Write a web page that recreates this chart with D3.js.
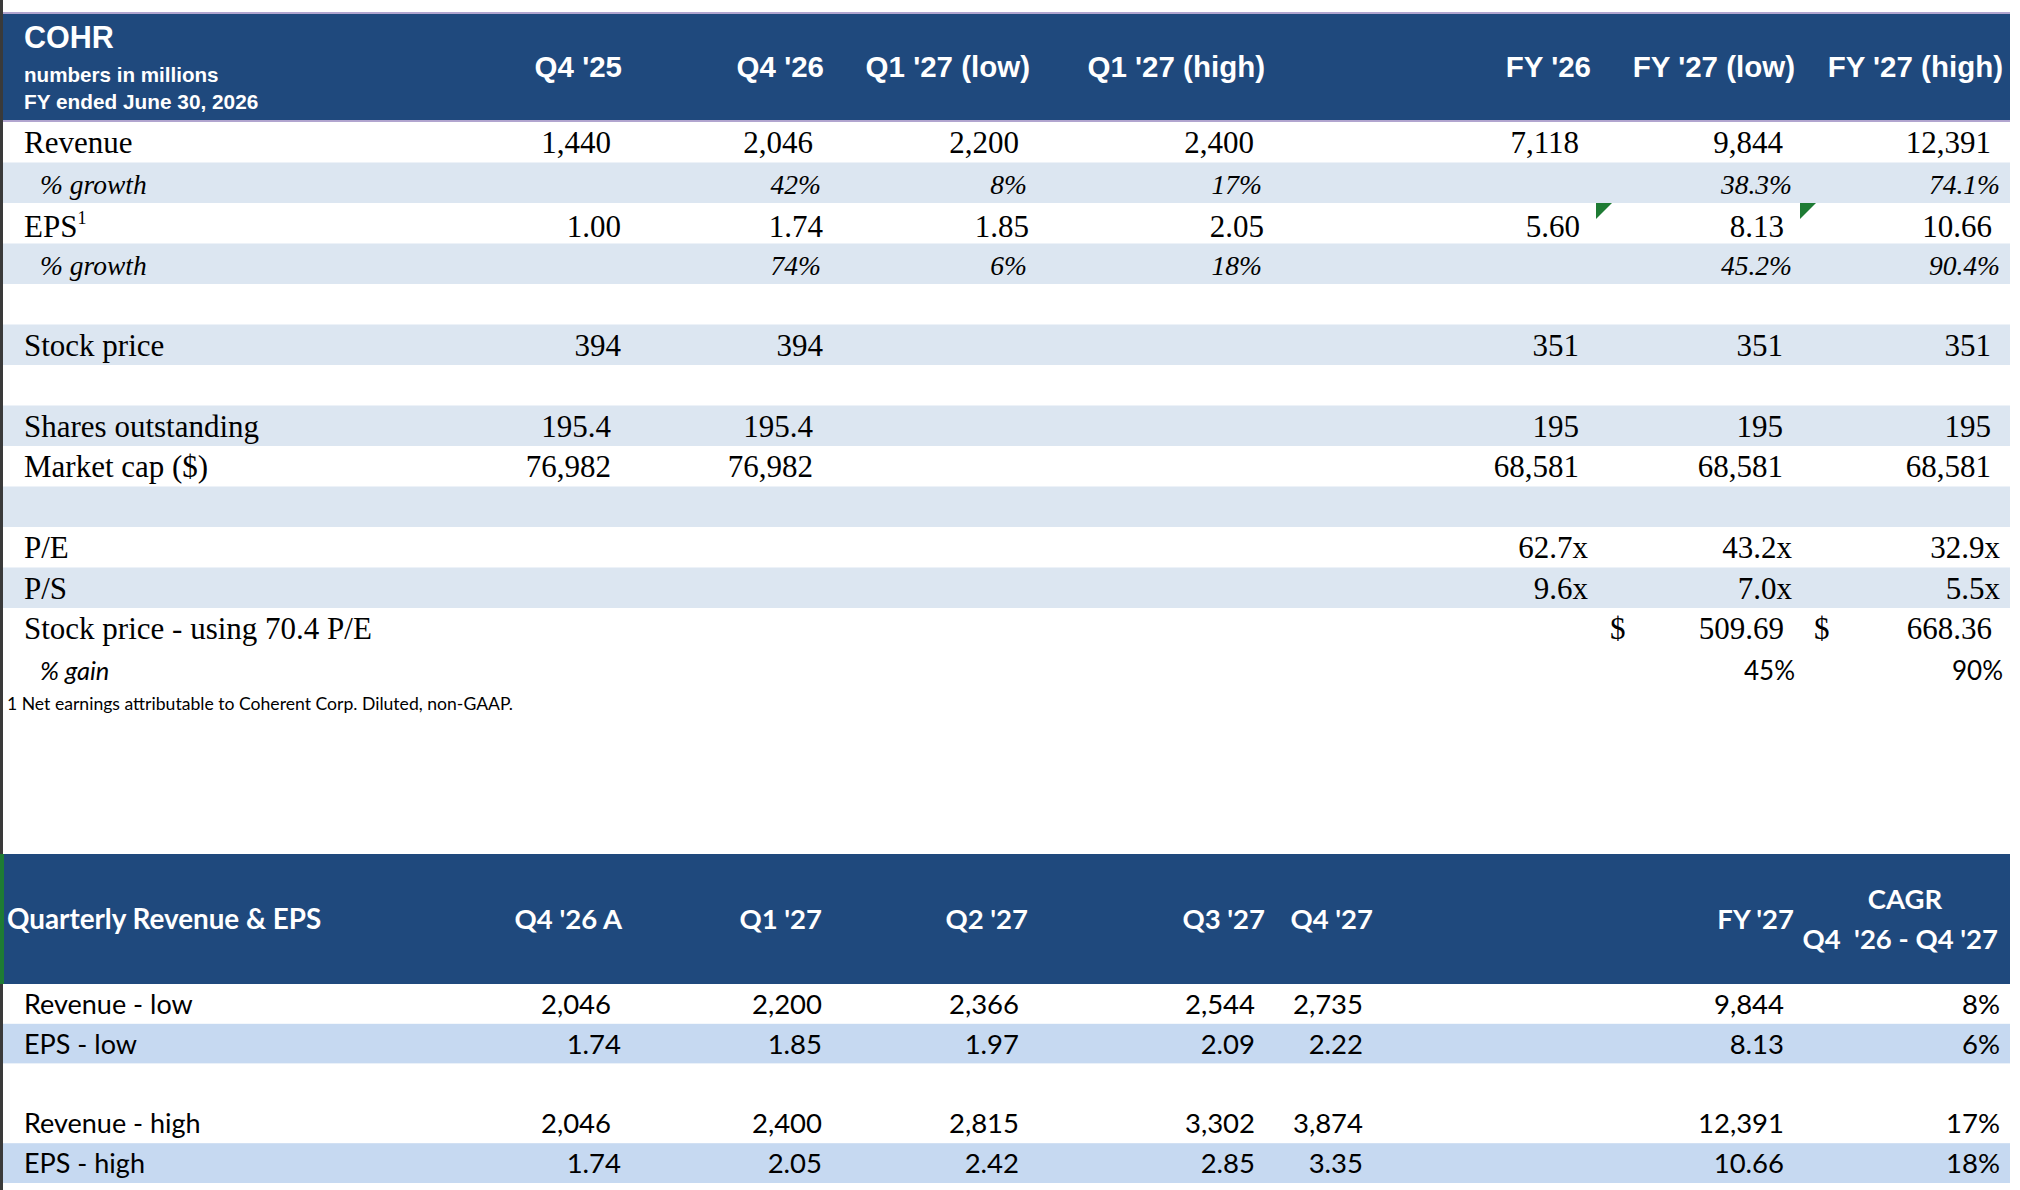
<!DOCTYPE html>
<html>
<head>
<meta charset="utf-8">
<script src="https://cdn.jsdelivr.net/npm/d3@7"></script>
<style>
  body { margin: 0; background: #fff; }
  svg { display: block; }
</style>
</head>
<body>
<div id="sheet"></div>
<script>
// top table columns and values
var topCols = ["Q4 '25", "Q4 '26", "Q1 '27 (low)", "Q1 '27 (high)", "FY '26", "FY '27 (low)", "FY '27 (high)"];
var revenue = [1440, 2046, 2200, 2400, 7118, 9844, 12391];
var revGrowth = [null, 0.42, 0.08, 0.17, null, 0.383, 0.741];
var eps = [1.00, 1.74, 1.85, 2.05, 5.60, 8.13, 10.66];
var epsGrowth = [null, 0.74, 0.06, 0.18, null, 0.452, 0.904];
var stockPrice = [394, 394, null, null, 351, 351, 351];
var shares = [195.4, 195.4, null, null, 195, 195, 195];
var marketCap = [76982, 76982, null, null, 68581, 68581, 68581];
var peRatio = [null, null, null, null, 62.7, 43.2, 32.9];
var psRatio = [null, null, null, null, 9.6, 7.0, 5.5];
var targetPrice = [null, null, null, null, null, 509.69, 668.36];
var pctGain = [null, null, null, null, null, 0.45, 0.90];
var targetPE = 70.4;
var footnote = "1 Net earnings attributable to Coherent Corp. Diluted, non-GAAP.";

// bottom table
var qCols = ["Q4 '26 A", "Q1 '27", "Q2 '27", "Q3 '27", "Q4 '27", "FY '27"];
var revLow = [2046, 2200, 2366, 2544, 2735, 9844];
var epsLow = [1.74, 1.85, 1.97, 2.09, 2.22, 8.13];
var revHigh = [2046, 2400, 2815, 3302, 3874, 12391];
var epsHigh = [1.74, 2.05, 2.42, 2.85, 3.35, 10.66];
var cagr = [0.08, 0.06, 0.17, 0.18];

var W = 2020, H = 1190;
var navy = "#1f497d", pale = "#dce6f1", pale2 = "#c6d9f1";
var serif = "'Liberation Serif', 'Times New Roman', serif";
var sans = "'Liberation Sans', Arial, sans-serif";
var cal = "Lato, 'Open Sans', sans-serif";

var svg = d3.select("#sheet").append("svg").attr("width", W).attr("height", H);

var fmtInt = d3.format(",.0f"), fmt1 = d3.format(".1f"), fmt2 = d3.format(".2f");
var pct0 = d3.format(".0%"), pct1 = d3.format(".1%");

// ---------- top table ----------
var xTop = d3.scaleOrdinal().domain(topCols).range([622, 824, 1030, 1265, 1591, 1795, 2003]);
var isFY = function (i) { return i >= 4; };

var topRows = [
  {key: "rev", label: "Revenue", vals: revenue, fill: "#fff", pad: [11, 12], f: fmtInt},
  {key: "revg", label: "% growth", sub: true, vals: revGrowth, fill: pale, pad: [3, 3], f: function (v, i) { return isFY(i) ? pct1(v) : pct0(v); }, italic: true},
  {key: "eps", label: "EPS", sup: "1", vals: eps, fill: "#fff", pad: [1, 11], f: fmt2, base: 34},
  {key: "epsg", label: "% growth", sub: true, vals: epsGrowth, fill: pale, pad: [3, 3], f: function (v, i) { return isFY(i) ? pct1(v) : pct0(v); }, italic: true},
  {key: "b1", label: "", vals: [], fill: "#fff"},
  {key: "px", label: "Stock price", vals: stockPrice, fill: pale, pad: [1, 12], f: fmtInt},
  {key: "b2", label: "", vals: [], fill: "#fff"},
  {key: "sh", label: "Shares outstanding", vals: shares, fill: pale, pad: [11, 12], f: function (v, i) { return isFY(i) ? fmtInt(v) : fmt1(v); }},
  {key: "mc", label: "Market cap ($)", vals: marketCap, fill: "#fff", pad: [11, 12], f: fmtInt},
  {key: "b3", label: "", vals: [], fill: pale},
  {key: "pe", label: "P/E", vals: peRatio, fill: "#fff", pad: [3, 3], f: function (v) { return fmt1(v) + "x"; }},
  {key: "ps", label: "P/S", vals: psRatio, fill: pale, pad: [3, 3], f: function (v) { return fmt1(v) + "x"; }},
  {key: "tp", label: "Stock price - using " + targetPE + " P/E", vals: targetPrice, fill: "#fff", pad: [11, 11], f: fmt2, dollar: true},
  {key: "gain", label: "% gain", sub: true, vals: pctGain, fill: "#fff", pad: [0, 0], f: pct0, sansVal: true}
];

var yTop = d3.scaleBand().domain(topRows.map(function (r) { return r.key; })).range([122, 689]);
var tableL = 3, tableR = 2010;
var baseOf = function (r) { return r.base || 31; };

// left frame line
svg.append("rect").attr("x", 0).attr("y", 0).attr("width", 3).attr("height", H).attr("fill", "#3a3a3a");

// header block
svg.append("rect").attr("x", tableL).attr("y", 12).attr("width", tableR - tableL).attr("height", 110).attr("fill", navy);
svg.append("rect").attr("x", tableL).attr("y", 12).attr("width", tableR - tableL).attr("height", 2).attr("fill", "#b1a5cf");
svg.append("rect").attr("x", tableL).attr("y", 120).attr("width", tableR - tableL).attr("height", 2).attr("fill", "#b1a5cf");

svg.append("text").attr("x", 24).attr("y", 48).attr("font-family", sans).attr("font-weight", "bold")
  .attr("font-size", 30.5).attr("fill", "#fff").text("COHR");
svg.append("text").attr("x", 24).attr("y", 82).attr("font-family", sans).attr("font-weight", "bold")
  .attr("font-size", 20.6).attr("fill", "#fff").text("numbers in millions");
svg.append("text").attr("x", 24).attr("y", 109).attr("font-family", sans).attr("font-weight", "bold")
  .attr("font-size", 20.8).attr("fill", "#fff").text("FY ended June 30, 2026");

svg.append("g").selectAll("text").data(topCols).join("text")
  .attr("x", function (d) { return xTop(d); })
  .attr("y", 77)
  .attr("text-anchor", "end")
  .attr("font-family", sans).attr("font-weight", "bold").attr("font-size", 29.5).attr("fill", "#fff")
  .text(function (d) { return d; });

// row bands
var rowG = svg.append("g").selectAll("g").data(topRows).join("g")
  .attr("transform", function (d) { return "translate(0," + yTop(d.key) + ")"; });

rowG.append("rect").attr("x", tableL).attr("width", tableR - tableL)
  .attr("height", yTop.bandwidth()).attr("fill", function (d) { return d.fill; });

var labels = rowG.append("text")
  .attr("x", function (d) { return d.sub ? 40 : 24; })
  .attr("y", baseOf)
  .attr("font-family", function (d) { return d.key === "gain" ? cal : serif; })
  .attr("font-style", function (d) { return d.sub ? "italic" : "normal"; })
  .attr("font-size", function (d) { return d.key === "gain" ? 25.5 : (d.sub ? 27.5 : 31); })
  .attr("fill", "#000")
  .text(function (d) { return d.label; });
labels.filter(function (d) { return d.sup; }).append("tspan")
  .attr("dy", -13).attr("font-size", 18).text(function (d) { return d.sup; });

rowG.each(function (row) {
  var g = d3.select(this);
  var cells = row.vals.map(function (v, i) { return {v: v, i: i}; }).filter(function (c) { return c.v != null; });
  g.selectAll("text.val").data(cells).join("text").attr("class", "val")
    .attr("x", function (c) { return xTop(topCols[c.i]) - row.pad[isFY(c.i) ? 1 : 0]; })
    .attr("y", baseOf(row))
    .attr("text-anchor", "end")
    .attr("font-family", row.sansVal ? cal : serif)
    .attr("font-style", row.italic ? "italic" : "normal")
    .attr("font-size", row.sansVal ? 26 : (row.italic ? 27.5 : 31))
    .text(function (c) { return row.f(c.v, c.i); });
  if (row.dollar) {
    g.selectAll("text.dollar").data(cells).join("text").attr("class", "dollar")
      .attr("x", function (c) { return xTop(topCols[c.i - 1]) + 19; })
      .attr("y", baseOf(row))
      .attr("font-family", serif).attr("font-size", 31)
      .text("$");
  }
});

// green comment markers on the EPS row (FY '26, FY '27 low)
var markCols = [topCols[4], topCols[5]];
svg.append("g").selectAll("path").data(markCols).join("path")
  .attr("d", function (d) {
    var x = xTop(d) + 5, y = yTop("eps");
    return "M" + x + "," + y + "h16l-16,16z";
  })
  .attr("fill", "#1e7b34");

svg.append("text").attr("x", 7).attr("y", 710).attr("font-family", cal).attr("font-size", 17.6)
  .attr("fill", "#000").text(footnote);

// ---------- bottom table ----------
var xBot = d3.scaleOrdinal().domain(qCols).range([622, 822, 1028, 1265, 1373, 1794]);
var cagrRight = 1998;
var bfs = 27.5;

svg.append("rect").attr("x", tableL).attr("y", 854).attr("width", tableR - tableL).attr("height", 130).attr("fill", navy);
svg.append("rect").attr("x", 0).attr("y", 854).attr("width", 4).attr("height", 130).attr("fill", "#1e7b34");

svg.append("text").attr("x", 7).attr("y", 929).attr("font-family", cal).attr("font-weight", "bold")
  .attr("font-size", 27.8).attr("fill", "#fff").text("Quarterly Revenue & EPS");
svg.append("g").selectAll("text").data(qCols).join("text")
  .attr("x", function (d) { return xBot(d); })
  .attr("y", 929).attr("text-anchor", "end")
  .attr("font-family", cal).attr("font-weight", "bold").attr("font-size", 27.5).attr("fill", "#fff")
  .text(function (d) { return d; });
svg.append("text").attr("x", 1905).attr("y", 909).attr("text-anchor", "middle")
  .attr("font-family", cal).attr("font-weight", "bold").attr("font-size", 27.5).attr("fill", "#fff").text("CAGR");
svg.append("text").attr("x", cagrRight).attr("y", 949).attr("text-anchor", "end").attr("xml:space", "preserve")
  .attr("font-family", cal).attr("font-weight", "bold").attr("font-size", 27.5).attr("fill", "#fff")
  .text("Q4  '26 - Q4 '27");

var botRows = [
  {key: "rl", label: "Revenue - low", vals: revLow, g: cagr[0], fill: "#fff", f: fmtInt, pad: [11, 0, 9, 10, 10, 10]},
  {key: "el", label: "EPS - low", vals: epsLow, g: cagr[1], fill: pale2, f: fmt2, pad: [1, 0, 9, 10, 10, 10]},
  {key: "bb", label: "", vals: [], fill: "#fff"},
  {key: "rh", label: "Revenue - high", vals: revHigh, g: cagr[2], fill: "#fff", f: fmtInt, pad: [11, 0, 9, 10, 10, 10]},
  {key: "eh", label: "EPS - high", vals: epsHigh, g: cagr[3], fill: pale2, f: fmt2, pad: [1, 0, 9, 10, 10, 10]}
];
var yBot = d3.scaleBand().domain(botRows.map(function (r) { return r.key; })).range([984, 1183]);

var bG = svg.append("g").selectAll("g").data(botRows).join("g")
  .attr("transform", function (d) { return "translate(0," + yBot(d.key) + ")"; });
bG.append("rect").attr("x", tableL).attr("width", tableR - tableL)
  .attr("height", yBot.bandwidth()).attr("fill", function (d) { return d.fill; });
bG.append("text").attr("x", 24).attr("y", 30).attr("font-family", cal).attr("font-size", 27)
  .text(function (d) { return d.label; });
bG.each(function (row) {
  var g = d3.select(this);
  g.selectAll("text.val").data(row.vals).join("text").attr("class", "val")
    .attr("x", function (v, i) { return xBot(qCols[i]) - row.pad[i]; })
    .attr("y", 30).attr("text-anchor", "end")
    .attr("font-family", cal).attr("font-size", bfs)
    .text(function (v) { return row.f(v); });
  if (row.g != null) {
    g.append("text").attr("x", cagrRight + 2).attr("y", 30).attr("text-anchor", "end")
      .attr("font-family", cal).attr("font-size", bfs).text(pct0(row.g));
  }
});
</script>
</body>
</html>
